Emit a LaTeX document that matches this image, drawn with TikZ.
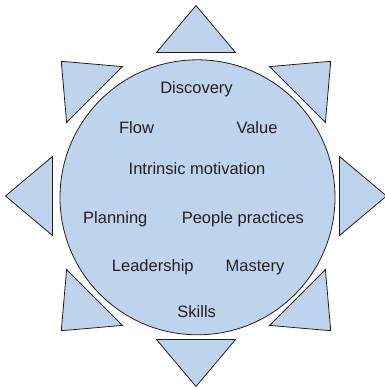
\documentclass[tikz,border=0pt]{standalone}
\usepackage{fontspec}
\setmainfont{Liberation Sans}
\definecolor{sunfill}{HTML}{BED4EC}
\definecolor{sunline}{HTML}{231F20}
\definecolor{suntext}{HTML}{231F20}
\begin{document}
\begin{tikzpicture}[x=1pt,y=-1pt,
  sunshape/.style={fill=sunfill,draw=sunline,line width=0.8pt,line join=miter},
  lbl/.style={anchor=base,inner sep=0pt,text=suntext,font=\fontsize{16.5}{18}\selectfont}]
\useasboundingbox (0,0) rectangle (384,389);
\coordinate (C) at (197.5,197.3);
\coordinate (T) at (196,196);
\foreach \a in {0,45,...,315}{
  \begin{scope}[shift={(T)},rotate=\a]
    \draw[sunshape] (-39.5,-143.5) -- (39.5,-143.5) -- (0,-190.5) -- cycle;
  \end{scope}
}
\node[sunshape,circle,minimum size=275pt,inner sep=0pt] (sun) at (C) {};
\node[lbl] (disc) at (196.5,93.5) {Discovery};
\node[lbl] (flow) at (136.5,133.5) {Flow};
\node[lbl] (value) at (257,133.5) {Value};
\node[lbl] (intr) at (197,174.3) {Intrinsic motivation};
\node[lbl] (plan) at (115.3,223.3) {Planning};
\node[lbl] (people) at (242.8,223.3) {People practices};
\node[lbl] (lead) at (152.8,271.7) {Leadership};
\node[lbl] (mast) at (255,271.7) {Mastery};
\node[lbl] (skills) at (196.7,317.7) {Skills};
\end{tikzpicture}
\end{document}
